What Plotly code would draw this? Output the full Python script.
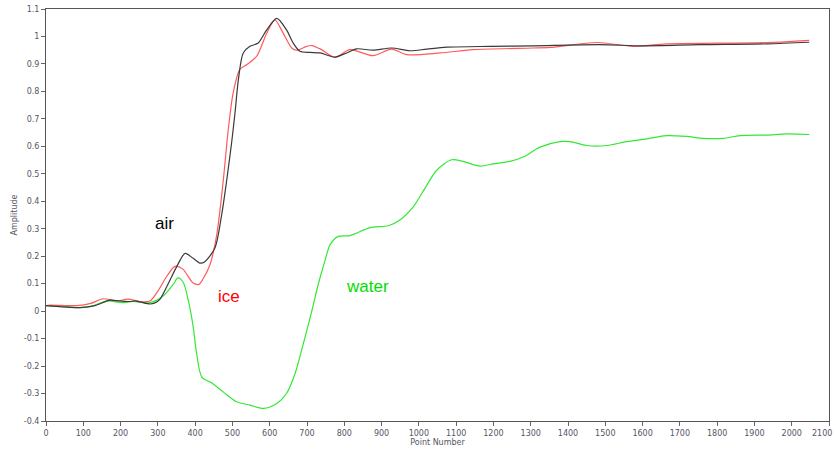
import plotly.graph_objects as go

# Waveform amplitude versus sample index for three surface conditions
air_x = [0, 91, 131, 172, 198, 225, 239, 252, 279, 292, 306, 327, 351, 373, 394, 413, 426,
         453, 471, 485, 498, 507, 516, 529, 547, 569, 592, 619, 645, 663, 681, 708, 735,
         775, 806, 833, 877, 927, 976, 1021, 1075, 1191, 1306, 1486, 1601, 1754, 1934, 2047]
air_y = [0.02, 0.013, 0.02, 0.04, 0.037, 0.035, 0.037, 0.034, 0.026, 0.03, 0.044, 0.098,
         0.163, 0.21, 0.193, 0.175, 0.18, 0.23, 0.35, 0.48, 0.615, 0.723, 0.843, 0.94,
         0.964, 0.976, 1.024, 1.066, 1.024, 0.976, 0.946, 0.942, 0.94, 0.925, 0.94, 0.955,
         0.95, 0.958, 0.948, 0.954, 0.961, 0.964, 0.966, 0.97, 0.966, 0.97, 0.973, 0.979]

ice_x = [0, 11, 83, 120, 153, 190, 220, 252, 279, 300, 324, 346, 367, 394, 410, 421, 440,
         458, 475, 489, 502, 520, 538, 565, 592, 614, 636, 659, 672, 699, 713, 739, 775,
         815, 877, 927, 967, 1057, 1145, 1306, 1352, 1478, 1574, 1665, 1934, 2047]
ice_y = [0.02, 0.022, 0.02, 0.028, 0.045, 0.037, 0.044, 0.035, 0.037, 0.073, 0.127, 0.163,
         0.153, 0.103, 0.097, 0.117, 0.17, 0.279, 0.47, 0.663, 0.795, 0.88, 0.897, 0.928,
         1.012, 1.06, 1.012, 0.958, 0.95, 0.964, 0.967, 0.952, 0.924, 0.952, 0.93, 0.954,
         0.934, 0.94, 0.952, 0.958, 0.96, 0.978, 0.964, 0.973, 0.978, 0.986]

water_x = [0, 38, 83, 118, 164, 204, 233, 279, 314, 341, 354, 368, 382, 395, 404, 418, 444,
           475, 511, 547, 583, 619, 645, 668, 690, 713, 730, 748, 762, 784, 815, 869, 918,
           949, 985, 1021, 1048, 1088, 1119, 1164, 1200, 1244, 1280, 1325, 1378, 1405, 1450,
           1504, 1557, 1611, 1664, 1718, 1763, 1816, 1861, 1933, 1986, 2047]
water_y = [0.02, 0.019, 0.013, 0.016, 0.037, 0.031, 0.035, 0.031, 0.055, 0.097, 0.121, 0.105,
           0.037, -0.059, -0.155, -0.24, -0.261, -0.294, -0.33, -0.342, -0.354, -0.336, -0.3,
           -0.227, -0.119, 0.001, 0.097, 0.183, 0.242, 0.272, 0.275, 0.304, 0.311, 0.332, 0.38,
           0.458, 0.513, 0.551, 0.545, 0.528, 0.536, 0.545, 0.561, 0.597, 0.617, 0.617, 0.603,
           0.603, 0.617, 0.627, 0.639, 0.636, 0.629, 0.629, 0.639, 0.641, 0.645, 0.643]

x_ticks = list(range(0, 2101, 100))
y_ticks = [-0.4, -0.3, -0.2, -0.1, 0, 0.1, 0.2, 0.3, 0.4, 0.5, 0.6, 0.7, 0.8, 0.9, 1, 1.1]
y_tick_labels = ["-0.4", "-0.3", "-0.2", "-0.1", "0", "0.1", "0.2", "0.3", "0.4", "0.5",
                 "0.6", "0.7", "0.8", "0.9", "1", "1.1"]

labels = [("air", 319, 0.319, "#000000"),
          ("ice", 491, 0.055, "#ff0000"),
          ("water", 863, 0.091, "#00dd00")]

fig = go.Figure()
for xs, ys, col in [(water_x, water_y, "#33e833"),
                    (ice_x, ice_y, "#ff5a5a"),
                    (air_x, air_y, "#3a3a3a")]:
    fig.add_trace(go.Scatter(x=xs, y=ys, mode="lines",
                             line=dict(color=col, width=1.2, shape="spline", smoothing=0.8),
                             showlegend=False, hoverinfo="skip"))

for text, lx, ly, col in labels:
    fig.add_annotation(x=lx, y=ly, text=text, showarrow=False,
                       font=dict(family="Liberation Sans, Arial", size=17, color=col))

axis_font = dict(family="DejaVu Sans", size=8, color="#555566")

# last x tick label sits against the right border; keep it inside the canvas
fig.add_annotation(x=x_ticks[-1], y=0, xref="x", yref="paper", text=str(x_ticks[-1]),
                   showarrow=False, xanchor="right", xshift=5, yanchor="top", yshift=-6,
                   font=axis_font)

fig.update_layout(
    width=836, height=452,
    margin=dict(l=46, r=7, t=5, b=31),
    paper_bgcolor="white", plot_bgcolor="white",
    xaxis=dict(range=[0, 2100], tickvals=x_ticks, ticks="outside", ticklen=4,
               tickcolor="#666", showline=True, linecolor="#555", linewidth=1,
               mirror=True, showgrid=False, zeroline=False, tickfont=axis_font,
               title=dict(text="Point Number", font=axis_font, standoff=2)),
    yaxis=dict(range=[-0.4, 1.1], tickvals=y_ticks, ticktext=y_tick_labels,
               ticks="outside", ticklen=4, tickcolor="#666", showline=True,
               linecolor="#555", linewidth=1, mirror=True, showgrid=False,
               zeroline=False, tickfont=axis_font,
               title=dict(text="Amplitude", font=axis_font, standoff=4)),
)

fig.write_html("out.html")
